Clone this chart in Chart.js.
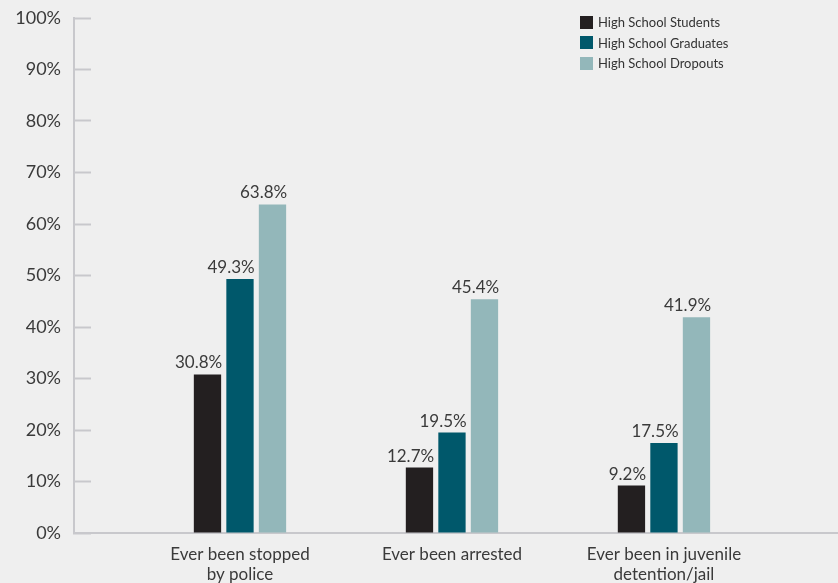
<!DOCTYPE html>
<html>
<head>
<meta charset="utf-8">
<script src="https://cdn.jsdelivr.net/npm/chart.js@4"></script>
<style>
  body { margin: 0; background: #efefef; }
  #wrap { position: relative; width: 838px; height: 583px; }
  #legend { position: absolute; left: 580px; top: 12px; font-family: Lato, sans-serif; font-size: 13px; color: #333; }
  #legend div { height: 20.5px; display: flex; align-items: center; }
  #legend span { display: inline-block; width: 13px; height: 13px; margin-right: 5px; }
</style>
</head>
<body>
<div id="wrap">
  <canvas id="myChart" width="838" height="583"></canvas>
  <div id="legend"></div>
</div>
<script>
// categories on the x axis
const categories = [
  ['Ever been stopped', 'by police'],
  ['Ever been arrested'],
  ['Ever been in juvenile', 'detention/jail']
];

// series names and values (percent)
const seriesNames = ['High School Students', 'High School Graduates', 'High School Dropouts'];
const students = [30.8, 12.7, 9.2];
const graduates = [49.3, 19.5, 17.5];
const dropouts = [63.8, 45.4, 41.9];
const colors = ['#231f20', '#00586b', '#93b7ba'];

// y ticks every 10%
const yTicks = [0, 10, 20, 30, 40, 50, 60, 70, 80, 90, 100];

const textColor = '#3a3a3a';
const axisColor = '#c8c8cc';

// build the legend in html
const legendEl = document.getElementById('legend');
seriesNames.forEach((name, i) => {
  legendEl.innerHTML += '<div><span style="background:' + colors[i] + '"></span>' + name + '</div>';
});

// each category sits at its index on the x scale
function toPoints(values) {
  return values.map((v, i) => ({x: i, y: v}));
}

// value labels above bars, right edge lined up with the bar
const valueLabels = {
  id: 'valueLabels',
  afterDatasetsDraw(chart) {
    const ctx = chart.ctx;
    ctx.save();
    ctx.font = '17px Lato, sans-serif';
    ctx.fillStyle = textColor;
    ctx.textAlign = 'right';
    ctx.textBaseline = 'bottom';
    chart.data.datasets.forEach((ds, di) => {
      chart.getDatasetMeta(di).data.forEach((bar, i) => {
        ctx.fillText(ds.data[i].y.toFixed(1) + '%', bar.x + bar.width / 2 + 1, bar.y - 3);
      });
    });
    ctx.restore();
  }
};

const myChart = document.getElementById('myChart');
let barChart = new Chart(myChart, {
  type: 'bar',
  data: {
    datasets: [
      {label: seriesNames[0], data: toPoints(students), backgroundColor: colors[0]},
      {label: seriesNames[1], data: toPoints(graduates), backgroundColor: colors[1]},
      {label: seriesNames[2], data: toPoints(dropouts), backgroundColor: colors[2]}
    ]
  },
  options: {
    responsive: false,
    animation: false,
    categoryPercentage: 0.46,
    barPercentage: 0.84,
    layout: {padding: {top: 18, right: 0, left: 0, bottom: 0}},
    plugins: {
      legend: {display: false},
      tooltip: {enabled: false}
    },
    scales: {
      x: {
        type: 'linear',
        offset: false,
        min: -0.783,
        max: 2.821,
        afterBuildTicks: axis => { axis.ticks = categories.map((c, i) => ({value: i})); },
        afterFit: axis => { axis.height = 50; },
        grid: {offset: false, drawOnChartArea: false, drawTicks: false},
        border: {color: axisColor, width: 2},
        ticks: {
          padding: 11,
          maxRotation: 0,
          color: textColor,
          font: {family: 'Lato, sans-serif', size: 17},
          callback: value => categories[value]
        }
      },
      y: {
        min: 0,
        max: 100,
        afterBuildTicks: axis => { axis.ticks = yTicks.map(v => ({value: v})); },
        afterFit: axis => { axis.width = 74; axis.paddingTop = 0; axis.paddingBottom = 0; },
        grid: {drawOnChartArea: false, tickLength: -17, tickColor: axisColor, tickWidth: 2},
        border: {color: axisColor, width: 2},
        ticks: {
          padding: 30,
          color: textColor,
          font: {family: 'Lato, sans-serif', size: 18},
          callback: value => value + '%'
        }
      }
    }
  },
  plugins: [valueLabels]
});
</script>
</body>
</html>
